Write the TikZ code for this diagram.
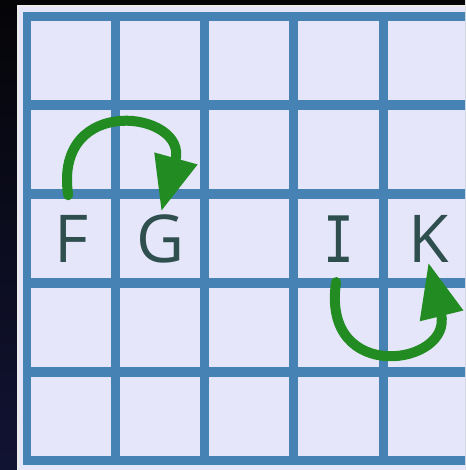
\documentclass[tikz,border=0pt]{standalone}
\usepackage{fontspec}
\newfontfamily\capfont{Open Sans}
\newfontfamily\slabfont[FakeStretch=0.8]{DejaVu Sans Mono}
\usepackage{tikz}
\usetikzlibrary{arrows.meta}
\definecolor{gridblue}{HTML}{4682B4}
\definecolor{cellfill}{HTML}{E6E6FA}
\definecolor{turngreen}{HTML}{228B22}
\definecolor{lettergray}{HTML}{2F4F4F}
\definecolor{bgtop}{HTML}{050508}
\definecolor{bgbot}{HTML}{111333}

\begin{document}
\begin{tikzpicture}[x=1pt, y=1pt,
    cell/.style={fill=cellfill},
    letter/.style={inner sep=0pt, text=lettergray, font=\capfont\fontsize{66}{66}\selectfont},
    turn/.style={turngreen, line width=10pt, line cap=round, -{Triangle[length=55pt,width=42pt]}}]
    \useasboundingbox (0,0) rectangle (465,470);
    \clip (0,0) rectangle (465,470);
    \shade[top color=bgtop, bottom color=bgbot] (0,0) rectangle (465,470);
    % board
    \draw[white!85!gray, line width=2pt, fill=cellfill] (18,-5) rectangle (480,464);
    \fill[gridblue] (22.5,4.5) rectangle (480,458);
    \foreach \i in {0,...,4}
      \foreach \j in {0,...,4}
        \fill[cell] (26.5+89.3*\i+4, 454-89.1*\j-5) rectangle (26.5+89.3*\i+84.3, 454-89.1*\j-84.1);
    % letters
    \node[letter] (F) at (71.15,231.25) {F};
    \node[letter] (G) at (160.45,231.25) {G};
    \node[letter, font=\slabfont\fontsize{64}{64}\selectfont] (I) at (339.05,231.25) {I};
    \node[letter] (K) at (428.35,231.25) {K};
    % turns
    \draw[turn, shorten <=20pt, shorten >=3pt] (F.north) .. controls +(98.5:124) and +(74.5:107) .. (G.north);
    \draw[turn, shorten <=20pt] (I.south) .. controls +(261.5:125) and +(283.9:106) .. (K.south);
\end{tikzpicture}
\end{document}
